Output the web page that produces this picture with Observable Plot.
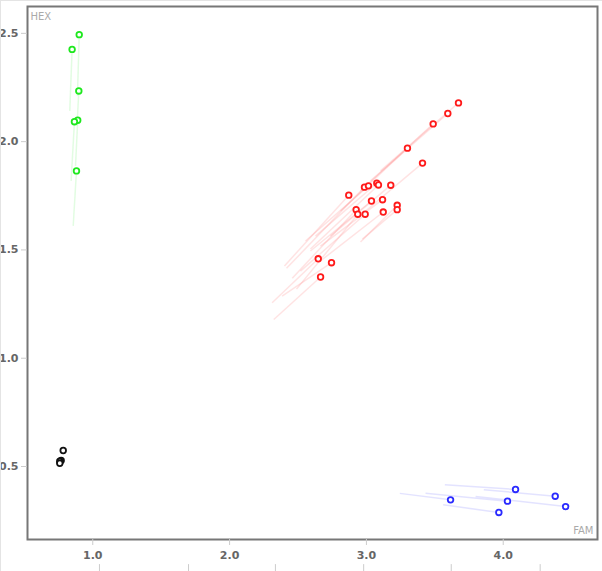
<!DOCTYPE html>
<html>
<head>
<meta charset="utf-8">
<script src="https://cdn.jsdelivr.net/npm/d3@7"></script>
<script src="https://cdn.jsdelivr.net/npm/@observablehq/plot@0.6"></script>
<style>
  html, body { margin: 0; padding: 0; background: #fff; }
  #chart { width: 601px; height: 570px; border-top: 1px solid #e4e4e4; border-left: 1px solid #e4e4e4; overflow: hidden; }
  #chart svg { display: block; }
</style>
</head>
<body>
<div id="chart"></div>
<script>
// Groups
const groups = ["green", "red", "blue", "black"];

// Current positions (FAM, HEX)
const greenFAM = [0.901, 0.849, 0.898, 0.890, 0.866, 0.881];
const greenHEX = [2.494, 2.426, 2.234, 2.099, 2.092, 1.865];
// Trail start positions
const greenFAM0 = [0.888, 0.832, 0.885, 0.874, 0.842, 0.857];
const greenHEX0 = [2.212, 2.142, 2.073, 1.888, 1.819, 1.611];

const redFAM = [3.673, 3.595, 3.488, 3.300, 3.410, 2.871, 2.986, 3.015, 3.076, 3.088, 3.178,
                3.037, 3.118, 2.925, 2.937, 2.991, 3.123, 3.225, 3.225, 2.648, 2.745, 2.665];
const redHEX = [2.179, 2.130, 2.082, 1.970, 1.901, 1.753, 1.790, 1.796, 1.808, 1.800, 1.799,
                1.726, 1.732, 1.686, 1.665, 1.665, 1.675, 1.706, 1.686, 1.459, 1.441, 1.375];
const redFAM0 = [3.103, 3.030, 2.957, 2.811, 2.994, 2.401, 2.416, 2.555, 2.628, 2.591, 2.737,
                 2.591, 2.664, 2.458, 2.489, 2.518, 2.664, 2.957, 2.971, 2.311, 2.384, 2.323];
const redHEX0 = [1.865, 1.819, 1.773, 1.680, 1.680, 1.426, 1.415, 1.541, 1.564, 1.504, 1.564,
                 1.495, 1.518, 1.369, 1.319, 1.402, 1.449, 1.537, 1.550, 1.256, 1.287, 1.179];

const blueFAM = [4.090, 4.380, 3.615, 4.031, 4.456, 3.968];
const blueHEX = [0.394, 0.363, 0.346, 0.340, 0.315, 0.288];
const blueFAM0 = [3.573, 3.858, 3.244, 3.432, 3.798, 3.561];
const blueHEX0 = [0.416, 0.393, 0.376, 0.377, 0.362, 0.323];

const blackFAM = [0.784, 0.769, 0.759, 0.759];
const blackHEX = [0.574, 0.528, 0.524, 0.515];

// Axis ticks
const xTicks = [1.0, 2.0, 3.0, 4.0];
const yTicks = [0.5, 1.0, 1.5, 2.0, 2.5];
const bottomMarks = [1.049, 1.70, 2.335, 2.98, 3.62, 4.27];

const pointColor = {green: "#1ee81e", red: "#ff1a1a", blue: "#2a2aff", black: "#111"};
const trailColor = {green: "#7df07d", red: "#ff8080", blue: "#8080ff", black: "#888"};

function build(name, fx, fy, fx0, fy0) {
  return fx.map((v, i) => ({
    group: name, fam: v, hex: fy[i],
    fam0: fx0 ? fx0[i] : null, hex0: fy0 ? fy0[i] : null
  }));
}
const pts = [
  ...build("green", greenFAM, greenHEX, greenFAM0, greenHEX0),
  ...build("red", redFAM, redHEX, redFAM0, redHEX0),
  ...build("blue", blueFAM, blueHEX, blueFAM0, blueHEX0),
  ...build("black", blackFAM, blackHEX, null, null)
];
const trails = pts.filter(d => d.fam0 != null);

const font = "DejaVu Sans, Verdana, sans-serif";

const chart = Plot.plot({
  width: 601,
  height: 570,
  marginLeft: 26,
  marginRight: 5,
  marginTop: 5,
  marginBottom: 32,
  style: {fontFamily: font, background: "#fff", overflow: "visible"},
  x: {domain: [0.523, 4.689]},
  y: {domain: [0.163, 2.624]},
  marks: [
    Plot.link(trails, {
      x1: "fam0", y1: "hex0", x2: "fam", y2: "hex",
      stroke: d => trailColor[d.group], strokeOpacity: 0.22, strokeWidth: 1.5
    }),
    Plot.dot(pts, {
      x: "fam", y: "hex", r: 2.8, fill: "white",
      stroke: d => pointColor[d.group], strokeWidth: 1.8
    }),
    Plot.frame({stroke: "#777", strokeWidth: 2}),
    Plot.axisY({
      ticks: yTicks, tickFormat: d3.format(".1f"), tickSize: 6, tickPadding: 3,
      stroke: "#ccc", strokeOpacity: 1, fill: "#666", fontWeight: "bold", fontSize: 11, label: null
    }),
    Plot.axisX({
      ticks: xTicks, tickFormat: d3.format(".1f"), tickSize: 6, tickPadding: 6,
      stroke: "#ccc", strokeOpacity: 1, fill: "#666", fontWeight: "bold", fontSize: 11, label: null
    }),
    Plot.ruleX(bottomMarks, {x: d => d, y1: 0.047, y2: 0.008, stroke: "#ccc", clip: false}),
    Plot.text(["HEX"], {frameAnchor: "top-left", dx: 3, dy: 6, fill: "#aaa", fontSize: 10, textAnchor: "start"}),
    Plot.text(["FAM"], {frameAnchor: "bottom-right", dx: -4, dy: -6, fill: "#aaa", fontSize: 10, textAnchor: "end"})
  ]
});
document.getElementById("chart").appendChild(chart);
</script>
</body>
</html>
